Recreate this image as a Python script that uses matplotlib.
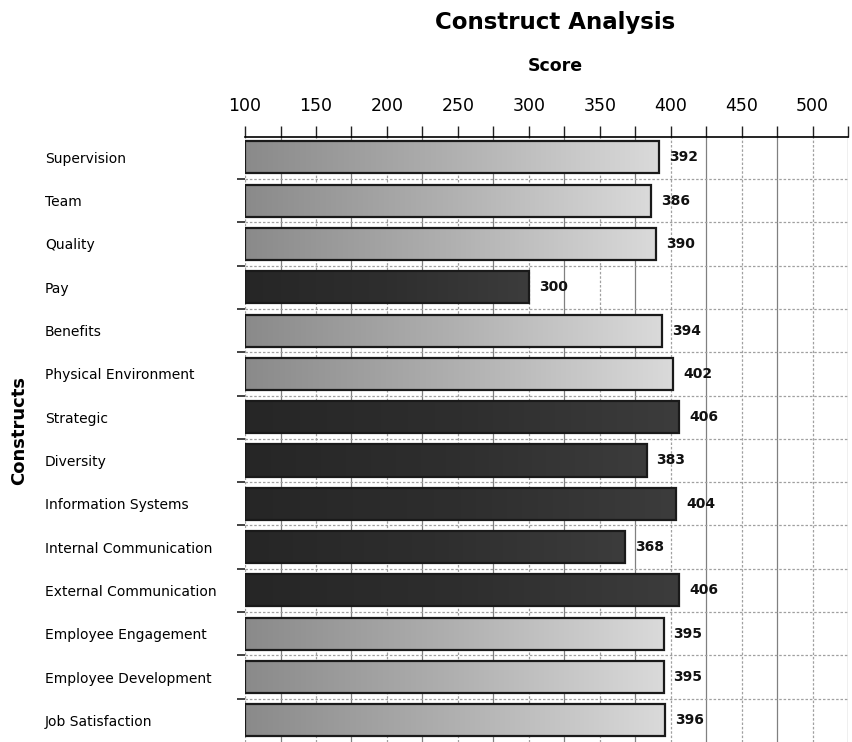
import matplotlib
matplotlib.use('Agg')
from matplotlib import pyplot as plt
from matplotlib.colors import LinearSegmentedColormap
import numpy as np

constructs = ['Supervision', 'Team', 'Quality', 'Pay', 'Benefits', 'Physical Environment',
              'Strategic', 'Diversity', 'Information Systems', 'Internal Communication',
              'External Communication', 'Employee Engagement', 'Employee Development',
              'Job Satisfaction']
scores = [392, 386, 390, 300, 394, 402, 406, 383, 404, 368, 406, 395, 395, 396]
# dark bars mark the constructs flagged in the report
flagged = [False, False, False, True, False, False, True, True, True, True, True,
           False, False, False]

light_cmap = LinearSegmentedColormap.from_list('light', ['#8a8a8a', '#b0b0b0', '#dadada'])
dark_cmap = LinearSegmentedColormap.from_list('dark', ['#262626', '#2e2e2e', '#3c3c3c'])

fig = plt.figure(figsize=(8.52, 7.42), dpi=100)
ax = fig.add_axes([0.2876, 0.0, 0.7077, 0.8154])

y_pos = np.arange(len(constructs))
bars = ax.barh(y_pos, [s - 100 for s in scores], left=100, height=0.74,
               color='none', edgecolor='#1a1a1a', linewidth=1.6, zorder=3)

# fill each bar with a left-to-right gradient clipped to the bar shape
grad = np.linspace(0, 1, 256).reshape(1, -1)
for bar, score, dark in zip(bars, scores, flagged):
    x0, y0 = bar.get_x(), bar.get_y()
    im = ax.imshow(grad, cmap=dark_cmap if dark else light_cmap, aspect='auto',
                   extent=[x0, x0 + bar.get_width(), y0 + bar.get_height(), y0],
                   zorder=2, interpolation='bilinear')
    im.set_clip_path(bar)
    ax.text(score + 7, bar.get_y() + bar.get_height() / 2, str(score),
            va='center', ha='left', fontsize=10, fontweight='bold', color='#111111')

ax.set_xlim(100, 525)
ax.set_ylim(len(constructs) - 0.5, -0.47)

# x axis on top, labelled every 50, gridlines every 25
ax.xaxis.tick_top()
ax.set_xticks(np.arange(100, 501, 50))
ax.set_xticks(np.arange(125, 526, 50), minor=True)
ax.tick_params(axis='x', which='both', length=8, width=1, color='#222222',
               labelsize=12.5, pad=8)
ax.grid(axis='x', which='major', color='#a0a0a0', linestyle=(0, (2, 1.5)), linewidth=0.9, zorder=0)
ax.grid(axis='x', which='minor', color='#808080', linestyle='-', linewidth=0.9, zorder=0)

# category labels left-aligned, ticks at the category boundaries
ax.set_yticks(y_pos)
ax.set_yticklabels(constructs, fontsize=10, ha='left')
ax.tick_params(axis='y', which='major', length=0, pad=144)
ax.set_yticks(np.arange(len(constructs) - 1) + 0.5, minor=True)
ax.tick_params(axis='y', which='minor', length=6, width=1.2, color='#222222')
ax.grid(axis='y', which='minor', color='#a0a0a0', linestyle=(0, (2, 1.5)), linewidth=0.9, zorder=0)

ax.spines['top'].set_linewidth(1.2)
ax.spines['left'].set_visible(False)
ax.spines['right'].set_visible(False)
ax.spines['bottom'].set_visible(False)

fig.text(0.652, 0.970, 'Construct Analysis', ha='center', va='center',
         fontsize=16.5, fontweight='bold')
fig.text(0.652, 0.911, 'Score', ha='center', va='center', fontsize=12.5, fontweight='bold')
fig.text(0.022, 0.42, 'Constructs', ha='center', va='center', rotation=90,
         fontsize=13, fontweight='bold')

fig.savefig('out.png', dpi=100)
